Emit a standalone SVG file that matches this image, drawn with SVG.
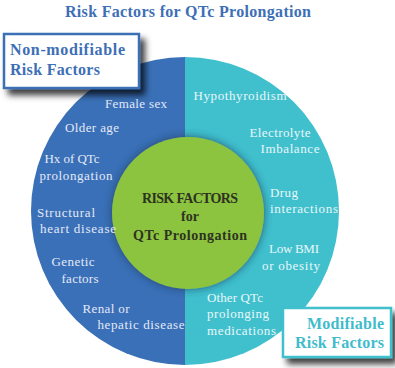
<svg xmlns="http://www.w3.org/2000/svg" width="395" height="368" viewBox="0 0 395 368">
<defs>
<filter id="sh" x="-20%" y="-20%" width="150%" height="160%"><feGaussianBlur in="SourceAlpha" stdDeviation="3"/><feOffset dx="5" dy="6" result="b"/><feFlood flood-color="#000" flood-opacity="0.75"/><feComposite in2="b" operator="in"/><feMerge><feMergeNode/><feMergeNode in="SourceGraphic"/></feMerge></filter>
<filter id="glow" x="-20%" y="-20%" width="140%" height="140%"><feGaussianBlur in="SourceAlpha" stdDeviation="4" result="bl"/><feFlood flood-color="#1d3a5c" flood-opacity="0.8"/><feComposite in2="bl" operator="in"/><feMerge><feMergeNode/><feMergeNode in="SourceGraphic"/></feMerge></filter>
</defs>
<style>
.t{font-family:"Liberation Serif","DejaVu Serif",serif;font-size:13px}
.l{fill:#e4e9f7}
.r{fill:#e8f7f9}
.h{font-weight:bold}
</style>
<rect width="395" height="368" fill="#fff"/>
<text class="t h" x="188" y="17" text-anchor="middle" fill="#3d6fb6" style="font-size:16px" textLength="246">Risk Factors for QTc Prolongation</text>
<g id="wheel">
<path d="M185,57 A154,154 0 0 0 185,365 Z" fill="#3a70b7"/>
<path d="M185,57 A154,154 0 0 1 185,365 Z" fill="#40c0cd"/>
</g>
<g id="center" filter="url(#glow)">
<circle cx="188" cy="213" r="76" fill="#8cc43f"/>
</g>
<g id="center-text" class="t h" fill="#2e3320" text-anchor="middle" style="font-size:14px">
<text x="190" y="203" textLength="96">RISK FACTORS</text>
<text x="190" y="221">for</text>
<text x="190" y="240" textLength="114">QTc Prolongation</text>
</g>
<g id="nonmod-items" class="t l" text-anchor="middle">
<text x="136" y="108" textLength="62">Female sex</text>
<text x="92" y="132" textLength="54">Older age</text>
<text x="72" y="163" textLength="55">Hx of QTc</text>
<text x="76" y="180" textLength="73">prolongation</text>
<text x="66" y="217" textLength="58">Structural</text>
<text x="78" y="233" textLength="76">heart disease</text>
<text x="73" y="266" textLength="43">Genetic</text>
<text x="80" y="283" textLength="37">factors</text>
<text x="106" y="313" textLength="47">Renal or</text>
<text x="141" y="329" textLength="87">hepatic disease</text>
</g>
<g id="mod-items" class="t r" text-anchor="middle">
<text x="240" y="100" textLength="93">Hypothyroidism</text>
<text x="280" y="137" textLength="61">Electrolyte</text>
<text x="290" y="153" textLength="59">Imbalance</text>
<text x="270" y="197" text-anchor="start" textLength="28">Drug</text>
<text x="304" y="213" textLength="68">interactions</text>
<text x="294" y="253" textLength="50">Low BMI</text>
<text x="291" y="270" textLength="58">or obesity</text>
<text x="207" y="302" text-anchor="start" textLength="56">Other QTc</text>
<text x="207" y="318" text-anchor="start" textLength="62">prolonging</text>
<text x="207" y="335" text-anchor="start" textLength="69">medications</text>
</g>
<g id="nonmod-box">
<rect x="4" y="34" width="135" height="54" fill="#fff" stroke="#3a70b7" stroke-width="2.5" filter="url(#sh)"/>
<text class="t h" x="10" y="55" fill="#3d6fb6" style="font-size:16px" textLength="115">Non-modifiable</text>
<text class="t h" x="10" y="75" fill="#3d6fb6" style="font-size:16px" textLength="90">Risk Factors</text>
</g>
<g id="mod-box">
<rect x="283" y="308" width="108" height="49" fill="#fff" stroke="#40c0cd" stroke-width="2.5" filter="url(#sh)"/>
<text class="t h" x="384" y="329" text-anchor="end" fill="#3fbccb" style="font-size:16px" textLength="77">Modifiable</text>
<text class="t h" x="384" y="348" text-anchor="end" fill="#3fbccb" style="font-size:16px" textLength="89">Risk Factors</text>
</g>
</svg>
